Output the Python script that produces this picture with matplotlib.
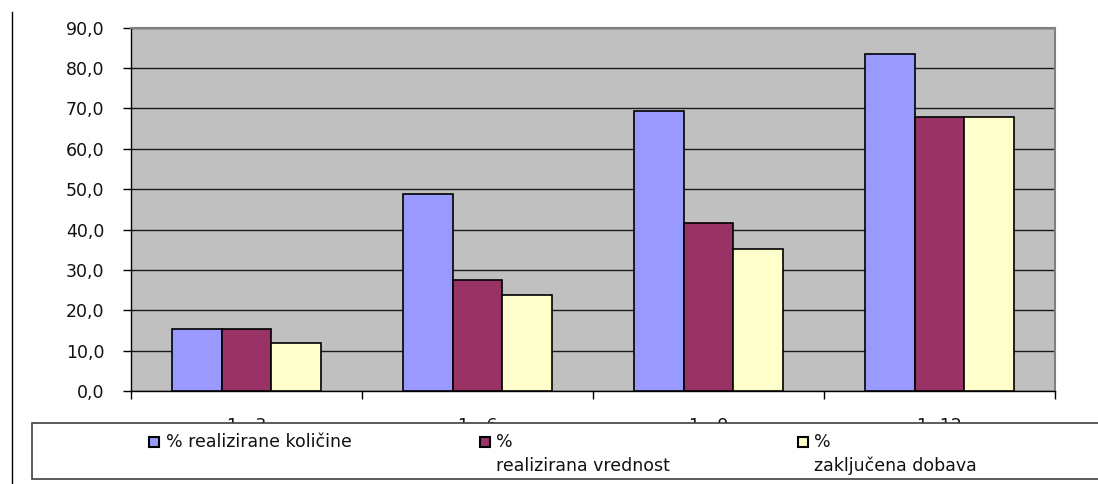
import matplotlib
matplotlib.use("Agg")
import matplotlib.pyplot as plt
from matplotlib.patches import Rectangle
from matplotlib.lines import Line2D
import numpy as np

categories = ["1 - 3", "1 - 6", "1 - 9", "1 -12"]
series_names = ["% realizirane količine", "%\nrealizirana vrednost", "%\nzaključena dobava"]
kolicine = [15.3, 48.8, 69.4, 83.5]
vrednost = [15.3, 27.4, 41.5, 67.8]
dobava = [11.8, 23.9, 35.1, 67.8]
yticks = [0, 10, 20, 30, 40, 50, 60, 70, 80, 90]
colors = ["#9999FF", "#993366", "#FFFFCC"]

W, H = 1098, 484
plt.rcParams['font.family'] = ['DejaVu Sans']
fig = plt.figure(figsize=(W / 100, H / 100), dpi=100)
fig.patch.set_facecolor("white")

def fx(px):
    return px / W

def fy(py):
    return 1 - py / H

left, right, top, bottom = 131, 1055, 27.7, 391
ax = fig.add_axes([fx(left), fy(bottom), fx(right) - fx(left), fy(top) - fy(bottom)])
ax.set_facecolor("#C0C0C0")

x = np.arange(len(categories))
bw = 0.216
for i, (vals, c) in enumerate(zip([kolicine, vrednost, dobava], colors)):
    ax.bar(x + (i - 1) * bw, vals, width=bw, color=c, edgecolor="black", linewidth=1.2, zorder=3)

ax.set_xlim(-0.5, len(categories) - 0.5)
ax.set_ylim(0, 90)
ax.set_yticks(yticks)
ax.set_yticklabels([f"{v:.1f}".replace(".", ",") for v in yticks], fontsize=12.5, color="#111111")
ax.yaxis.grid(True, color="#1a1a1a", linewidth=1.0, zorder=1)
ax.set_axisbelow(True)
ax.tick_params(axis="y", length=6, width=1, pad=13, direction="out")

ax.set_xticks(np.arange(-0.5, len(categories)), minor=False)
ax.set_xticklabels([""] * (len(categories) + 1))
ax.tick_params(axis="x", which="major", length=6, width=1, direction="out")
ax.set_xticks(x, minor=True)
ax.set_xticklabels(categories, minor=True, fontsize=12.5, color="#111111")
ax.tick_params(axis="x", which="minor", length=0, pad=19)

for s in ["top", "right"]:
    ax.spines[s].set_color("#808080")
    ax.spines[s].set_linewidth(1.5)
for s in ["left", "bottom"]:
    ax.spines[s].set_color("black")
    ax.spines[s].set_linewidth(1.0)

# left vertical line
fig.add_artist(Line2D([fx(12), fx(12)], [fy(12), fy(484)], color="black", linewidth=1.0, zorder=6))

# legend box (covers most of the category labels, as in the reference)
lg = Rectangle((fx(32), fy(479)), fx(1110) - fx(32), fy(423) - fy(479),
               facecolor="white", edgecolor="#404040", linewidth=1.2, zorder=5)
fig.add_artist(lg)

entries = [(149, 166), (480, 496), (798, 814)]
for (mx, tx), name, c in zip(entries, series_names, colors):
    fig.add_artist(Rectangle((fx(mx), fy(447)), fx(10), 10 / H, facecolor=c,
                             edgecolor="black", linewidth=1.5, zorder=7))
    fig.text(fx(tx), fy(433), name, fontsize=12.5, color="#111111", va="top", ha="left",
             linespacing=1.4, zorder=8)

fig.savefig("out.png", dpi=100, facecolor="white")
